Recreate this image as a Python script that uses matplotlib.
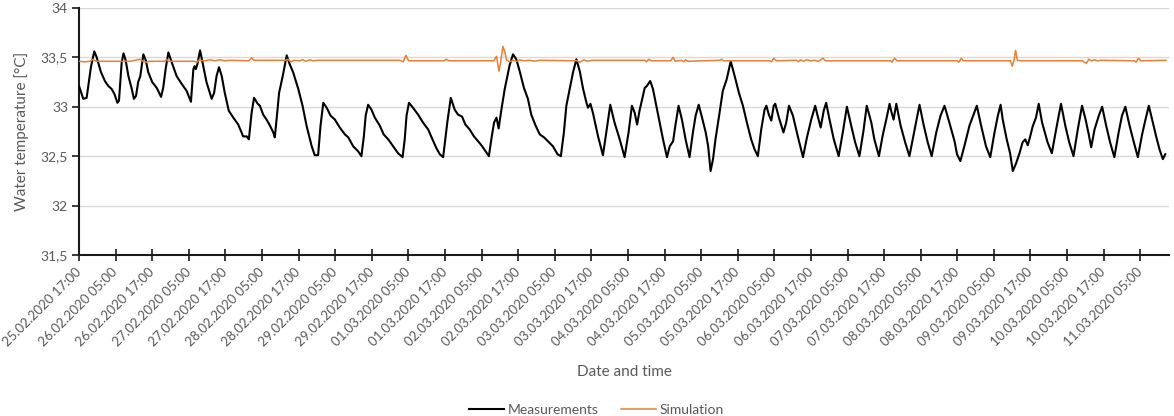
import datetime as dt
import matplotlib
matplotlib.use("Agg")
import matplotlib.pyplot as plt
import matplotlib.dates as mdates
from matplotlib.ticker import FuncFormatter, FixedLocator

plt.rcParams['font.family'] = ['Lato', 'DejaVu Sans']

START = dt.datetime(2020, 2, 25, 17, 0)

# Measured water temperature: hours after 25.02.2020 17:00 and value in °C
meas_hours = [
    0.0, 1.4, 2.5, 3.9, 5.0, 5.8, 7.2, 8.5, 9.6, 10.7, 11.6, 12.6, 13.1, 14.0, 14.6, 15.3,
    16.2, 17.3, 18.0, 18.7, 19.4, 20.1, 21.1, 21.9, 22.7, 24.0, 25.5, 26.9, 27.6, 28.4,
    29.3, 30.4, 32.0, 33.7, 35.3, 36.7, 37.5, 37.9, 38.3, 38.8, 39.7, 40.7, 41.8, 43.5,
    44.3, 45.1, 45.9, 46.8, 47.8, 49.1, 50.6, 52.2, 53.3, 53.8, 55.0, 55.7, 56.6, 57.4,
    58.6, 59.3, 60.4, 61.5, 62.6, 63.7, 64.2, 65.0, 65.6, 66.8, 68.1, 69.1, 70.2, 71.9,
    73.3, 74.6, 76.3, 77.3, 78.4, 79.2, 80.1, 81.2, 82.5, 83.9, 85.5, 87.2, 88.3, 89.9,
    91.5, 92.6, 93.4, 94.0, 94.8, 95.9, 97.0, 98.6, 99.9, 101.4, 103.0, 104.6, 106.1,
    106.8, 107.4, 108.2, 109.5, 111.2, 112.8, 114.5, 115.9, 117.2, 118.3, 119.4, 120.8,
    121.9, 123.2, 124.3, 125.6, 126.7, 128.1, 129.5, 130.9, 132.2, 133.3, 134.4, 135.2,
    136.1, 136.9, 137.6, 138.5, 139.6, 141.2, 142.3, 143.4, 144.5, 145.9, 147.2, 148.3,
    149.7, 151.1, 152.5, 153.8, 155.4, 156.9, 158.0, 159.0, 159.8, 160.9, 162.0, 163.1,
    164.2, 165.3, 166.4, 166.9, 167.7, 168.5, 170.2, 171.8, 172.9, 174.2, 175.6, 177.3,
    178.9, 180.2, 181.3, 182.2, 183.0, 183.8, 184.7, 185.5, 186.2, 187.3, 188.2, 189.3,
    190.4, 191.5, 192.8, 193.7, 194.8, 195.6, 196.6, 197.7, 198.9, 200.2, 201.3, 202.2,
    203.2, 204.3, 205.5, 206.3, 207.1, 207.9, 208.7, 209.8, 211.1, 212.4, 213.7, 215.0,
    216.4, 217.7, 219.0, 220.4, 221.5, 222.6, 223.7, 224.8, 225.4, 226.2, 227.0, 227.8,
    228.3, 229.5, 231.0, 231.9, 232.8, 234.1, 235.7, 237.4, 238.7, 240.1, 241.4, 242.1,
    243.2, 244.2, 245.0, 246.1, 247.5, 249.1, 250.5, 251.8, 253.2, 254.5, 255.9, 257.2,
    258.3, 259.8, 260.8, 262.3, 263.6, 264.7, 265.8, 266.3, 267.1, 268.0, 269.4, 270.9,
    272.3, 273.9, 275.6, 277.0, 278.3, 279.6, 281.1, 282.5, 283.8, 285.4, 287.1, 287.9,
    289.0, 290.3, 292.0, 294.4, 295.8, 297.4, 298.8, 300.2, 301.3, 302.2, 302.9, 304.2,
    305.3, 306.2, 307.3, 308.4, 309.4, 310.3, 311.1, 311.9, 312.7, 313.8, 314.7, 315.8,
    317.6, 319.0, 320.4, 322.0, 323.4, 324.7, 326.1, 327.5, 328.9, 330.0, 331.1, 331.9,
    333.0, 334.4, 335.5, 336.8, 338.1, 339.5, 340.9, 342.0, 343.1, 344.4, 345.8, 347.2,
    348.6, 349.7, 350.8, 352.1, 353.2, 354.3, 355.4, 356.2,
]
meas_temp = [
    33.21, 33.08, 33.09, 33.40, 33.56, 33.50, 33.35, 33.26, 33.21, 33.18, 33.13, 33.04,
    33.06, 33.45, 33.54, 33.47, 33.31, 33.18, 33.08, 33.11, 33.25, 33.31, 33.53, 33.47,
    33.35, 33.25, 33.19, 33.10, 33.19, 33.38, 33.55, 33.45, 33.31, 33.23, 33.16, 33.05,
    33.38, 33.41, 33.38, 33.43, 33.57, 33.42, 33.25, 33.08, 33.14, 33.31, 33.40, 33.31,
    33.14, 32.96, 32.89, 32.82, 32.74, 32.70, 32.70, 32.67, 32.94, 33.09, 33.03, 33.01,
    32.92, 32.87, 32.81, 32.74, 32.69, 32.94, 33.14, 33.31, 33.52, 33.43, 33.35, 33.18,
    33.01, 32.81, 32.60, 32.51, 32.51, 32.81, 33.04, 32.99, 32.91, 32.87, 32.79, 32.72,
    32.69, 32.60, 32.55, 32.50, 32.70, 32.91, 33.02, 32.97, 32.89, 32.81, 32.72, 32.67,
    32.60, 32.53, 32.49, 32.67, 32.91, 33.04, 32.99, 32.92, 32.84, 32.77, 32.67, 32.58,
    32.52, 32.49, 32.85, 33.09, 32.97, 32.92, 32.90, 32.82, 32.77, 32.70, 32.65, 32.60,
    32.55, 32.50, 32.67, 32.84, 32.89, 32.78, 32.97, 33.18, 33.42, 33.53, 33.48, 33.36,
    33.19, 33.08, 32.92, 32.81, 32.72, 32.69, 32.65, 32.60, 32.52, 32.50, 32.74, 33.01,
    33.18, 33.35, 33.48, 33.36, 33.18, 33.04, 32.99, 33.03, 32.94, 32.70, 32.51, 32.74,
    33.02, 32.84, 32.67, 32.49, 32.74, 33.01, 32.94, 32.82, 32.96, 33.08, 33.19, 33.21,
    33.26, 33.18, 33.01, 32.84, 32.67, 32.49, 32.60, 32.65, 32.82, 33.01, 32.87, 32.67,
    32.49, 32.74, 32.91, 33.02, 32.89, 32.74, 32.60, 32.35, 32.47, 32.67, 32.89, 33.16,
    33.28, 33.46, 33.31, 33.14, 33.01, 32.84, 32.67, 32.57, 32.50, 32.77, 32.97, 33.01,
    32.92, 32.86, 33.01, 33.03, 32.89, 32.74, 32.84, 33.01, 32.91, 32.70, 32.49, 32.69,
    32.87, 33.01, 32.92, 32.79, 32.96, 33.04, 32.87, 32.67, 32.50, 32.75, 33.00, 32.81,
    32.64, 32.50, 32.75, 33.01, 32.84, 32.67, 32.50, 32.72, 32.87, 33.03, 32.96, 32.87,
    33.03, 32.81, 32.64, 32.50, 32.75, 33.02, 32.81, 32.64, 32.50, 32.74, 32.91, 33.01,
    32.84, 32.65, 32.52, 32.45, 32.60, 32.81, 33.01, 32.81, 32.60, 32.49, 32.74, 32.91,
    33.02, 32.87, 32.67, 32.53, 32.35, 32.43, 32.53, 32.64, 32.67, 32.61, 32.70, 32.80,
    32.89, 33.03, 32.84, 32.64, 32.53, 32.77, 33.03, 32.81, 32.64, 32.50, 32.77, 33.01,
    32.88, 32.72, 32.59, 32.77, 32.91, 33.00, 32.81, 32.64, 32.49, 32.74, 32.91, 33.00,
    32.82, 32.65, 32.49, 32.72, 32.87, 33.01, 32.84, 32.70, 32.57, 32.47, 32.52,
]

# Simulated water temperature: hours after 25.02.2020 17:00 and value in °C
sim_hours = [
    0.0, 2.0, 3.6, 4.6, 5.6, 16.7, 20.0, 21.0, 22.2, 22.9, 28.2, 28.7, 29.3, 37.7, 38.6,
    39.3, 41.3, 42.9, 44.6, 46.2, 47.8, 49.5, 55.7, 56.6, 57.3, 67.5, 68.5, 69.5, 70.5,
    72.4, 73.4, 74.4, 75.7, 76.7, 78.3, 105.2, 106.3, 107.2, 108.1, 119.6, 120.5, 121.2,
    136.0, 136.9, 137.7, 138.3, 139.0, 139.6, 140.2, 141.2, 142.2, 143.5, 144.5, 145.8,
    147.8, 149.4, 151.1, 163.2, 164.2, 165.5, 166.8, 168.1, 185.5, 186.1, 186.8, 187.8,
    194.0, 194.8, 195.5, 197.6, 198.3, 198.9, 199.6, 210.1, 210.7, 211.4, 226.4, 227.1,
    227.8, 228.7, 235.3, 235.9, 236.6, 237.6, 238.6, 239.9, 241.2, 242.5, 243.9, 244.8,
    266.1, 266.6, 267.4, 268.2, 288.0, 288.5, 289.3, 290.0, 305.4, 306.0, 306.6, 307.1,
    307.7, 308.7, 329.0, 329.7, 330.3, 331.1, 332.0, 333.0, 334.0, 334.9, 346.1, 346.6,
    347.4, 348.2, 356.4,
]
sim_temp = [
    33.46, 33.455, 33.46, 33.48, 33.46, 33.46, 33.48, 33.46, 33.45, 33.46, 33.46, 33.48,
    33.46, 33.46, 33.45, 33.47, 33.465, 33.475, 33.465, 33.475, 33.465, 33.47, 33.465,
    33.495, 33.47, 33.47, 33.48, 33.455, 33.47, 33.465, 33.475, 33.46, 33.475, 33.465,
    33.47, 33.47, 33.455, 33.52, 33.465, 33.465, 33.48, 33.465, 33.465, 33.51, 33.36,
    33.46, 33.61, 33.56, 33.47, 33.455, 33.47, 33.46, 33.475, 33.465, 33.47, 33.46, 33.47,
    33.465, 33.45, 33.475, 33.46, 33.47, 33.47, 33.455, 33.48, 33.465, 33.465, 33.50,
    33.46, 33.47, 33.455, 33.475, 33.46, 33.47, 33.48, 33.465, 33.465, 33.455, 33.49,
    33.465, 33.47, 33.455, 33.475, 33.46, 33.475, 33.465, 33.47, 33.46, 33.49, 33.465,
    33.465, 33.45, 33.49, 33.465, 33.465, 33.45, 33.49, 33.465, 33.465, 33.41, 33.47,
    33.57, 33.47, 33.465, 33.465, 33.45, 33.44, 33.48, 33.465, 33.475, 33.465, 33.47,
    33.465, 33.45, 33.49, 33.465, 33.47,
]

y_ticks = [31.5, 32.0, 32.5, 33.0, 33.5, 34.0]
n_x_ticks = 30          # every 12 h from 25.02.2020 17:00 to 11.03.2020 05:00
x_end_hours = 357.4

def to_dates(hours):
    return [START + dt.timedelta(hours=h) for h in hours]

fig = plt.figure(figsize=(11.74, 4.16), dpi=100)
ax = fig.add_axes([0.0673, 0.387, 0.9284, 0.594])

ax.plot(to_dates(meas_hours), meas_temp, color='black', lw=1.5, zorder=3,
        label='Measurements')
ax.plot(to_dates(sim_hours), sim_temp, color='#ED7D31', lw=1.1, zorder=4,
        label='Simulation')

ax.set_ylim(31.5, 34.0)
ax.set_xlim(mdates.date2num(START), mdates.date2num(START + dt.timedelta(hours=x_end_hours)))

ax.yaxis.set_major_locator(FixedLocator(y_ticks))
ax.yaxis.set_major_formatter(FuncFormatter(lambda v, p: f"{v:g}".replace('.', ',')))
tick_dates = [START + dt.timedelta(hours=12 * i) for i in range(n_x_ticks)]
ax.set_xticks(mdates.date2num(tick_dates))
ax.set_xticklabels([d.strftime('%d.%m.%Y %H:%M') for d in tick_dates],
                   rotation=45, ha='right', va='center', rotation_mode='anchor')

ax.grid(axis='y', color='#d9d9d9', lw=1.0, zorder=0)
ax.set_axisbelow(True)
for s in ('top', 'right'):
    ax.spines[s].set_visible(False)
for s in ('left', 'bottom'):
    ax.spines[s].set_color('#1a1a1a')
    ax.spines[s].set_linewidth(1.5)

ax.tick_params(axis='y', direction='out', length=5, width=1.2, color='#1a1a1a',
               labelsize=10, labelcolor='#595959', pad=3)
ax.tick_params(axis='x', direction='inout', length=8, width=1.2, color='#1a1a1a',
               labelsize=9.5, labelcolor='#595959', pad=7)

ax.set_ylabel('Water temperature [°C]', fontsize=11, color='#595959', labelpad=8)
ax.set_xlabel('Date and time', fontsize=11, color='#595959', labelpad=12)

leg = fig.legend(loc='lower center', bbox_to_anchor=(0.508, -0.03), ncol=2,
                 frameon=False, fontsize=10, handlelength=2.5, columnspacing=1.6,
                 handletextpad=0.3)
for t in leg.get_texts():
    t.set_color('#595959')

fig.savefig('out.png', dpi=100)
